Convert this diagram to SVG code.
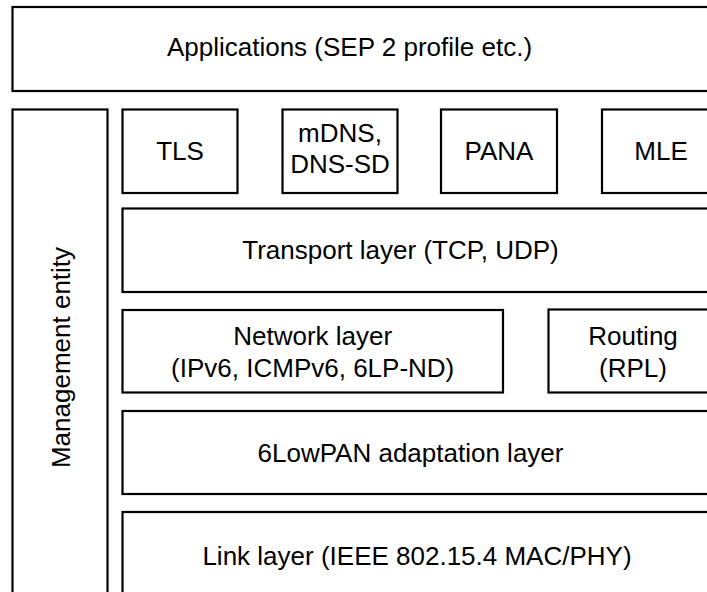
<svg xmlns="http://www.w3.org/2000/svg" width="707" height="592" viewBox="0 0 707 592">
  <style>
    .box { fill: #ffffff; stroke: #000000; stroke-width: 2.2; }
    .lbl { font-family: "Liberation Sans", Arial, sans-serif; font-size: 26px; fill: #000000; text-anchor: middle; }
  </style>
  <rect x="0" y="0" width="707" height="592" fill="#ffffff"/>

  <g id="applications">
    <rect class="box" x="12.5" y="7" width="720" height="84"/>
    <text class="lbl" x="349.5" y="56">Applications (SEP 2 profile etc.)</text>
  </g>

  <g id="management">
    <rect class="box" x="12.5" y="109.5" width="95" height="520"/>
    <text class="lbl" transform="translate(69.5,357.5) rotate(-90)" x="0" y="0">Management entity</text>
  </g>

  <g id="tls">
    <rect class="box" x="122.5" y="109.5" width="115" height="83.5"/>
    <text class="lbl" x="180" y="159.5">TLS</text>
  </g>

  <g id="mdns">
    <rect class="box" x="282.5" y="109.5" width="115" height="83.5"/>
    <text class="lbl" x="340" y="142">mDNS,</text>
    <text class="lbl" x="340" y="173">DNS-SD</text>
  </g>

  <g id="pana">
    <rect class="box" x="441" y="109.5" width="116" height="83.5"/>
    <text class="lbl" x="499" y="159.5">PANA</text>
  </g>

  <g id="mle">
    <rect class="box" x="602" y="109.5" width="118" height="83.5"/>
    <text class="lbl" x="661" y="159.5">MLE</text>
  </g>

  <g id="transport">
    <rect class="box" x="122.5" y="208.5" width="610" height="83.5"/>
    <text class="lbl" x="400.5" y="258.5">Transport layer (TCP, UDP)</text>
  </g>

  <g id="network">
    <rect class="box" x="122.5" y="310" width="380.5" height="82.5"/>
    <text class="lbl" x="312.7" y="345">Network layer</text>
    <text class="lbl" x="312.7" y="376.5">(IPv6, ICMPv6, 6LP-ND)</text>
  </g>

  <g id="routing">
    <rect class="box" x="548.5" y="309.5" width="170" height="83"/>
    <text class="lbl" x="633" y="345">Routing</text>
    <text class="lbl" x="633" y="377">(RPL)</text>
  </g>

  <g id="adaptation">
    <rect class="box" x="122.5" y="411" width="610" height="83"/>
    <text class="lbl" x="410.5" y="461.5">6LowPAN adaptation layer</text>
  </g>

  <g id="link">
    <rect class="box" x="122.5" y="512" width="610" height="120"/>
    <text class="lbl" x="417" y="564.5">Link layer (IEEE 802.15.4 MAC/PHY)</text>
  </g>

  <g id="connectors"></g>
</svg>
